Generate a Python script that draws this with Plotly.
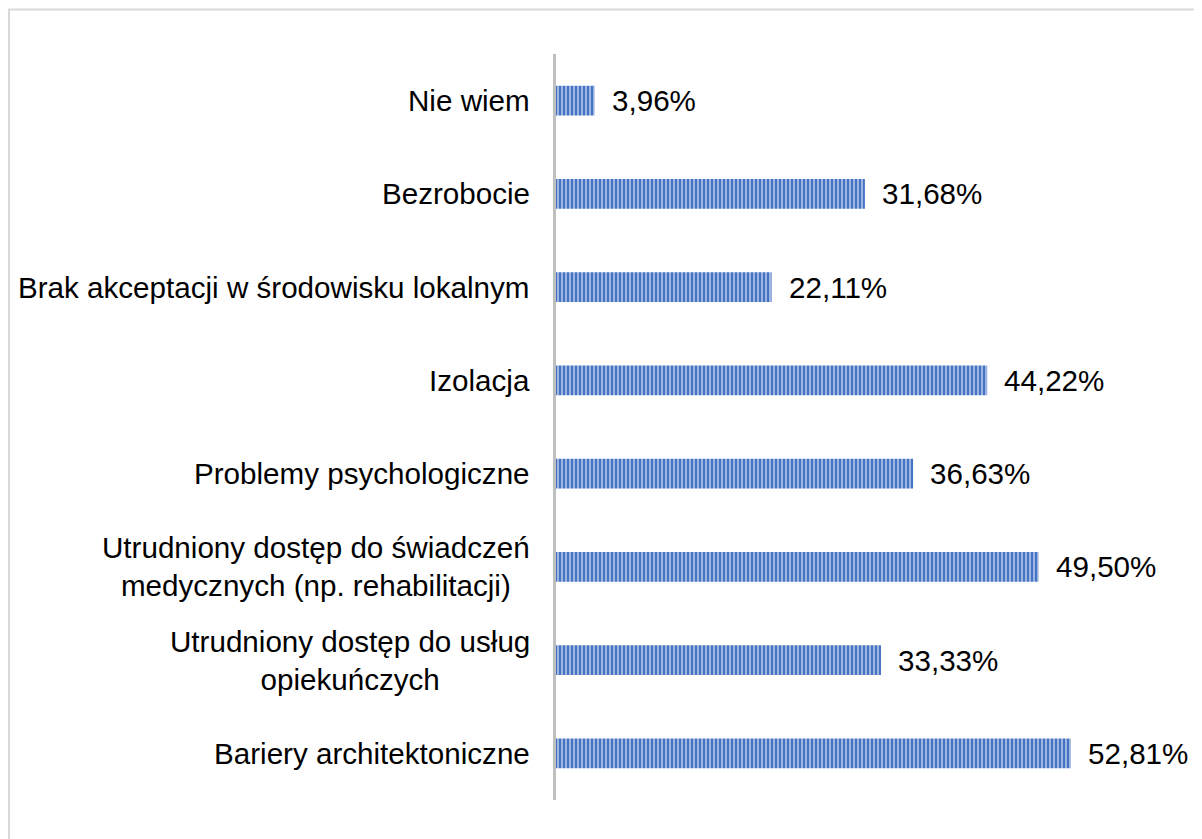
import plotly.graph_objects as go

categories = [
    "Bariery architektoniczne",
    "Utrudniony dostęp do usług<br>opiekuńczych",
    "Utrudniony dostęp do świadczeń<br>medycznych (np. rehabilitacji)",
    "Problemy psychologiczne",
    "Izolacja",
    "Brak akceptacji w środowisku lokalnym",
    "Bezrobocie",
    "Nie wiem",
]
values = [52.81, 33.33, 49.50, 36.63, 44.22, 22.11, 31.68, 3.96]
value_labels = ["52,81%", "33,33%", "49,50%", "36,63%", "44,22%", "22,11%", "31,68%", "3,96%"]

# page has an 8px body margin, so the figure starts at (8, 8)
OFF = 8
W, H = 1202 - OFF, 839 - OFF
L, R, T, B = 556 - OFF, 61, 54 - OFF, 39
pw, ph = W - L - R, H - T - B
FONT = "Liberation Sans, Arial, sans-serif"
FS = 29.6

fig = go.Figure()
fig.add_trace(go.Bar(
    y=list(range(len(categories))),
    x=values,
    orientation="h",
    width=0.32,
    marker=dict(
        color="#4472C4",
        line=dict(width=0),
        pattern=dict(shape="|", fgcolor="#B4C7E7", bgcolor="#4472C4",
                     size=4, solidity=0.4, fgopacity=1),
    ),
    hoverinfo="skip",
))

annotations = []
for i, (c, v, lab) in enumerate(zip(categories, values, value_labels)):
    annotations.append(dict(
        x=0, xref="x", y=i, yref="y", text=c, showarrow=False,
        xanchor="right", yanchor="middle", align="center", xshift=-24,
        font=dict(family=FONT, size=FS, color="#000000"),
    ))
    annotations.append(dict(
        x=v, xref="x", y=i, yref="y", text=lab, showarrow=False,
        xanchor="left", yanchor="middle", xshift=15,
        font=dict(family=FONT, size=FS, color="#000000"),
    ))

def px2x(px):
    return (px - OFF - L) / pw

def py2y(py):
    return (H - B - (py - OFF)) / ph

fig.update_layout(
    width=W, height=H,
    margin=dict(l=L, r=R, t=T, b=B, autoexpand=False),
    paper_bgcolor="white", plot_bgcolor="white",
    showlegend=False,
    xaxis=dict(range=[0, pw / 9.75], visible=False, fixedrange=True),
    yaxis=dict(range=[-0.5, len(categories) - 0.5], showticklabels=False,
               showgrid=False, zeroline=False, showline=True,
               linecolor="#BFBFBF", linewidth=3, ticks=""),
    annotations=annotations,
    shapes=[dict(type="rect", xref="paper", yref="paper",
                 x0=px2x(9), x1=px2x(1260), y0=py2y(900), y1=py2y(9.5),
                 line=dict(color="#D9D9D9", width=2), layer="below")],
)

fig.write_html("out.html")
